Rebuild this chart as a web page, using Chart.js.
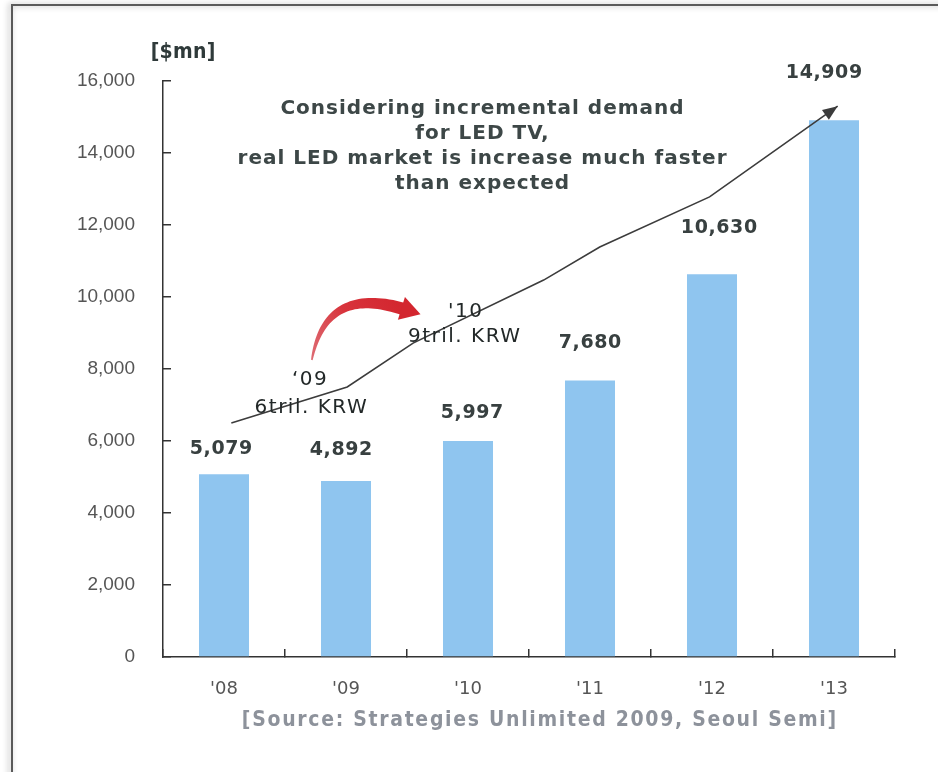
<!DOCTYPE html>
<html><head><meta charset="utf-8">
<script src="https://cdn.jsdelivr.net/npm/chart.js@4.4.1/dist/chart.umd.min.js"></script>
<style>html,body{margin:0;padding:0;background:#fff;overflow:hidden}canvas{display:block}</style>
</head><body>
<canvas id="c" width="938" height="772"></canvas>
<script>
// ---- data ----
const categories = ["'08", "'09", "'10", "'11", "'12", "'13"];
const marketValues = [5079, 4892, 5997, 7680, 10630, 14909];
const yTickValues = [0, 2000, 4000, 6000, 8000, 10000, 12000, 14000, 16000];
// hand-drawn trend line (x = category index, y = $mn)
const trendLine = [
  {x: 0.06, y: 6500}, {x: 1.01, y: 7500}, {x: 1.55, y: 8720}, {x: 2.62, y: 10470},
  {x: 3.08, y: 11390}, {x: 3.98, y: 12780}, {x: 5.03, y: 15300}
];
const unitLabel = '[$mn]';
const noteLines = ['Considering incremental demand', 'for LED TV,', 'real LED market is increase much faster', 'than expected'];
const krwYears = ["\u201809", "'10"];
const krwTexts = ['6tril. KRW', '9tril. KRW'];
const sourceText = '[Source: Strategies Unlimited 2009, Seoul Semi]';

// ---- style / placement ----
const labelLift = [25, 31, 28, 37, 46, 47];
const labelShift = [-3, -5, 4, 0, 7, -10];
const krwAnchors = [
  {yearAt: [0.70, 7695], textAt: [0.71, 6926]},
  {yearAt: [1.975, 9592], textAt: [1.967, 8898]}
];
const noteAnchor = [2.115, 15222];
const redArrow = {from: [0.72, 8250], ctrl: [0.83, 10334], to: [1.47, 9667]};

function txt(ctx, s, x, y, font, color, ls, align) {
  align = align || 'center';
  ctx.save();
  ctx.font = font; ctx.fillStyle = color; ctx.textAlign = align; ctx.textBaseline = 'middle';
  ctx.letterSpacing = (ls || 0) + 'px';
  const off = align === 'center' ? (ls || 0) / 2 : 0;
  ctx.fillText(s, x + off, y);
  ctx.restore();
}
function fitTxt(ctx, s, x, y, font, color, width) {
  ctx.save(); ctx.font = font; ctx.letterSpacing = '0px';
  const w = ctx.measureText(s).width; ctx.restore();
  txt(ctx, s, x, y, font, color, (width - w) / s.length);
}

const deco = {
  id: 'deco',
  beforeDraw(chart) {
    const ctx = chart.ctx, W = chart.width, H = chart.height;
    ctx.save();
    ctx.fillStyle = '#fff'; ctx.fillRect(0, 0, W, H);
    ctx.shadowColor = 'rgba(0,0,0,0.35)'; ctx.shadowBlur = 6; ctx.shadowOffsetX = -2;
    ctx.strokeStyle = '#5a5a5a'; ctx.lineWidth = 2;
    ctx.beginPath(); ctx.moveTo(12, H + 10); ctx.lineTo(12, 5); ctx.lineTo(W + 10, 5); ctx.stroke();
    ctx.restore();
  },
  afterDatasetsDraw(chart) {
    const ctx = chart.ctx, xs = chart.scales.x2, ys = chart.scales.y, ca = chart.chartArea;
    const P = (a) => ({x: xs.getPixelForValue(a[0]), y: ys.getPixelForValue(a[1])});

    // trend line arrow head
    const lm = chart.getDatasetMeta(1).data;
    const e = lm[lm.length - 1], s = lm[lm.length - 2];
    let dx = e.x - s.x, dy = e.y - s.y; const L = Math.hypot(dx, dy); dx /= L; dy /= L;
    ctx.save(); ctx.fillStyle = '#3c3c3c';
    ctx.beginPath();
    ctx.moveTo(e.x, e.y);
    ctx.lineTo(e.x - dx * 15 - dy * 6, e.y - dy * 15 + dx * 6);
    ctx.lineTo(e.x - dx * 15 + dy * 6, e.y - dy * 15 - dx * 6);
    ctx.closePath(); ctx.fill(); ctx.restore();

    // red curved arrow
    const p0 = P(redArrow.from), c = P(redArrow.ctrl), p2 = P(redArrow.to);
    const left = [], right = [];
    const N = 40;
    for (let i = 0; i <= N; i++) {
      const t = i / N;
      const bx = (1 - t) * (1 - t) * p0.x + 2 * (1 - t) * t * c.x + t * t * p2.x;
      const by = (1 - t) * (1 - t) * p0.y + 2 * (1 - t) * t * c.y + t * t * p2.y;
      let tx = 2 * (1 - t) * (c.x - p0.x) + 2 * t * (p2.x - c.x);
      let ty = 2 * (1 - t) * (c.y - p0.y) + 2 * t * (p2.y - c.y);
      const tl = Math.hypot(tx, ty); tx /= tl; ty /= tl;
      const w = 0.8 + Math.pow(t, 0.8) * 5.5;
      left.push([bx - ty * w, by + tx * w]);
      right.push([bx + ty * w, by - tx * w]);
    }
    const g = ctx.createLinearGradient(p0.x, p0.y, p2.x, p2.y);
    g.addColorStop(0, 'rgba(214,70,80,0.8)'); g.addColorStop(0.5, '#d8343c'); g.addColorStop(1, '#d3262f');
    ctx.save(); ctx.fillStyle = g;
    ctx.beginPath();
    left.forEach((q, i) => i ? ctx.lineTo(q[0], q[1]) : ctx.moveTo(q[0], q[1]));
    for (let i = right.length - 1; i >= 0; i--) ctx.lineTo(right[i][0], right[i][1]);
    ctx.closePath(); ctx.fill();
    let hx = p2.x - c.x, hy = p2.y - c.y; const hl = Math.hypot(hx, hy); hx /= hl; hy /= hl;
    ctx.fillStyle = '#d3262f';
    ctx.beginPath();
    ctx.moveTo(p2.x + hx * 18, p2.y + hy * 18);
    ctx.lineTo(p2.x - hy * 12 - hx * 2, p2.y + hx * 12 - hy * 2);
    ctx.lineTo(p2.x + hy * 12 - hx * 2, p2.y - hx * 12 - hy * 2);
    ctx.closePath(); ctx.fill(); ctx.restore();

    // value labels
    const bm = chart.getDatasetMeta(0).data;
    bm.forEach((el, i) => {
      txt(ctx, marketValues[i].toLocaleString('en-US'), el.x + labelShift[i], el.y - labelLift[i],
        'bold 19px "DejaVu Sans"', '#384040', 0.6);
    });

    // KRW notes
    krwAnchors.forEach((a, i) => {
      const py = P(a.yearAt), pt = P(a.textAt);
      txt(ctx, krwYears[i], py.x, py.y, '20px "DejaVu Sans"', '#222828', 1.5);
      txt(ctx, krwTexts[i], pt.x, pt.y, '20px "DejaVu Sans"', '#222828', 1.5);
    });

    // note block
    const na = P(noteAnchor);
    noteLines.forEach((s, i) => {
      txt(ctx, s, na.x, na.y + i * 25, 'bold 20px "DejaVu Sans"', '#3d4747', 1);
    });

    // unit label
    fitTxt(ctx, unitLabel, ca.left + 20, ca.top - 28, 'bold 21px "DejaVu Sans Condensed", "Liberation Sans Narrow", "DejaVu Sans"', '#2f3a3a', 65);

    // source
    fitTxt(ctx, sourceText, (ca.left + ca.right) / 2 + 10, ca.bottom + 64, 'bold 21px "DejaVu Sans Condensed", "DejaVu Sans"', '#8d929b', 596);
  }
};

new Chart(document.getElementById('c'), {
  data: {
    labels: categories,
    datasets: [
      {type: 'bar', data: marketValues, backgroundColor: '#8fc5ef', grouped: false,
        categoryPercentage: 1, barPercentage: 0.41, order: 2, xAxisID: 'x', yAxisID: 'y'},
      {type: 'line', data: trendLine, xAxisID: 'x2', yAxisID: 'y', borderColor: '#3c3c3c', borderWidth: 1.6,
        pointRadius: 0, fill: false, tension: 0, order: 1}
    ]
  },
  options: {
    responsive: false, animation: false, devicePixelRatio: 1,
    layout: {padding: {left: 0, top: 81, right: 43, bottom: 55}},
    plugins: {legend: {display: false}, tooltip: {enabled: false}},
    scales: {
      x: {
        type: 'category', offset: true,
        grid: {display: true, offset: true, drawOnChartArea: false, drawTicks: true, tickLength: -8, color: '#333', lineWidth: 1.5},
        border: {display: true, color: '#333', width: 1.5},
        ticks: {color: '#555', font: {family: 'DejaVu Sans', size: 18}, padding: 30},
        afterFit(s) { s.height = 60; }
      },
      x2: {type: 'linear', axis: 'x', position: 'bottom', min: -0.5, max: 5.5, display: false},
      y: {
        type: 'linear', min: 0, max: 16000,
        afterBuildTicks(s) { s.ticks = yTickValues.map(v => ({value: v})); },
        ticks: {callback: v => Number(v).toLocaleString('en-US'), color: '#555', font: {family: 'Liberation Sans', size: 19}, padding: 36},
        grid: {drawOnChartArea: false, tickLength: -8, color: '#333', lineWidth: 1.5},
        border: {display: true, color: '#333', width: 1.5},
        afterFit(s) { s.width = 163; }
      }
    }
  },
  plugins: [deco]
});
</script>
</body></html>
